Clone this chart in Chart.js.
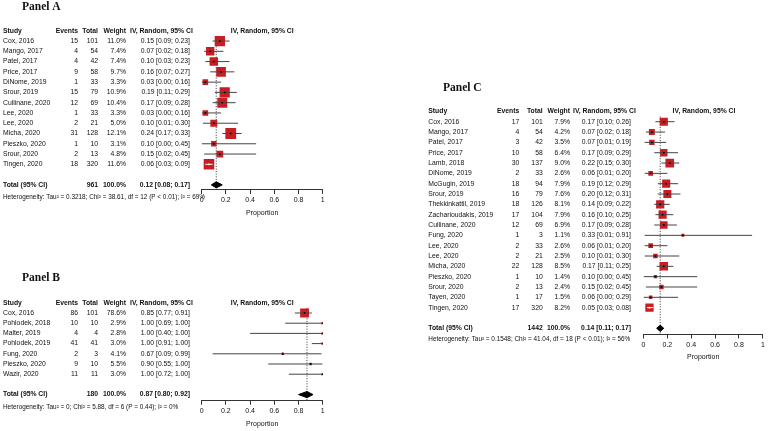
<!DOCTYPE html>
<html><head><meta charset="utf-8">
<script src="https://cdn.jsdelivr.net/npm/chart.js@4.4.1/dist/chart.umd.min.js"></script>
<style>
html,body{margin:0;padding:0;background:#fff;width:769px;height:431px;overflow:hidden}
canvas{position:absolute;left:0;top:0}
</style></head><body>
<canvas id="cA" width="769" height="431"></canvas>
<canvas id="cB" width="769" height="431"></canvas>
<canvas id="cC" width="769" height="431"></canvas>
<script>
// ---------- Panel A data ----------
const studiesA = ["Cox, 2016","Mango, 2017","Patel, 2017","Price, 2017","DiNome, 2019","Srour, 2019","Cullinane, 2020","Lee, 2020","Lee, 2020","Micha, 2020","Pieszko, 2020","Srour, 2020","Tingen, 2020"];
const eventsA = [15,4,4,9,1,15,12,1,2,31,1,2,18];
const totalsA = [101,54,42,58,33,79,69,33,21,128,10,13,320];
const weightsA = [11.0,7.4,7.4,9.7,3.3,10.9,10.4,3.3,5.0,12.1,3.1,4.8,11.6];
const estA = [0.15,0.07,0.10,0.16,0.03,0.19,0.17,0.03,0.10,0.24,0.10,0.15,0.06];
const lowerA = [0.09,0.02,0.03,0.07,0.00,0.11,0.09,0.00,0.01,0.17,0.00,0.02,0.03];
const upperA = [0.23,0.18,0.23,0.27,0.16,0.29,0.28,0.16,0.30,0.33,0.45,0.45,0.09];
const pooledA = [0.12,0.08,0.17];
const totalNA = 961;
const hetA = "Heterogeneity: Tau² = 0.3218; Chi² = 38.61, df = 12 (P < 0.01); I² = 69%";

// ---------- Panel B data ----------
const studiesB = ["Cox, 2016","Pohlodek, 2018","Malter, 2019","Pohlodek, 2019","Fung, 2020","Pieszko, 2020","Wazir, 2020"];
const eventsB = [86,10,4,41,2,9,11];
const totalsB = [101,10,4,41,3,10,11];
const weightsB = [78.6,2.9,2.8,3.0,4.1,5.5,3.0];
const estB = [0.85,1.00,1.00,1.00,0.67,0.90,1.00];
const lowerB = [0.77,0.69,0.40,0.91,0.09,0.55,0.72];
const upperB = [0.91,1.00,1.00,1.00,0.99,1.00,1.00];
const pooledB = [0.87,0.80,0.92];
const totalNB = 180;
const hetB = "Heterogeneity: Tau² = 0; Chi² = 5.88, df = 6 (P = 0.44); I² = 0%";

// ---------- Panel C data ----------
const studiesC = ["Cox, 2016","Mango, 2017","Patel, 2017","Price, 2017","Lamb, 2018","DiNome, 2019","McGugin, 2019","Srour, 2019","Thekkinkattil, 2019","Zacharioudakis, 2019","Cullinane, 2020","Fung, 2020","Lee, 2020","Lee, 2020","Micha, 2020","Pieszko, 2020","Srour, 2020","Tayen, 2020","Tingen, 2020"];
const eventsC = [17,4,3,10,30,2,18,16,18,17,12,1,2,2,22,1,2,1,17];
const totalsC = [101,54,42,58,137,33,94,79,126,104,69,3,33,21,128,10,13,17,320];
const weightsC = [7.9,4.2,3.5,6.4,9.0,2.6,7.9,7.6,8.1,7.9,6.9,1.1,2.6,2.5,8.5,1.4,2.4,1.5,8.2];
const estC = [0.17,0.07,0.07,0.17,0.22,0.06,0.19,0.20,0.14,0.16,0.17,0.33,0.06,0.10,0.17,0.10,0.15,0.06,0.05];
const lowerC = [0.10,0.02,0.01,0.09,0.15,0.01,0.12,0.12,0.09,0.10,0.09,0.01,0.01,0.01,0.11,0.00,0.02,0.00,0.03];
const upperC = [0.26,0.18,0.19,0.29,0.30,0.20,0.29,0.31,0.22,0.25,0.28,0.91,0.20,0.30,0.25,0.45,0.45,0.29,0.08];
const pooledC = [0.14,0.11,0.17];
const totalNC = 1442;
const hetC = "Heterogeneity: Tau² = 0.1548; Chi² = 41.04, df = 18 (P < 0.01); I² = 56%";

const tickValues = [0,0.2,0.4,0.6,0.8,1];
const tickLabels = ["0","0.2","0.4","0.6","0.8","1"];
const axisTitle = "Proportion";
const ciHeader = "IV, Random, 95% CI";
const colHeaders = ["Study","Events","Total","Weight"];
const totalLabel = "Total (95% CI)";

// ---------- rendering ----------
const W = 769, H = 431, AX_H = 27.2;
const SANS = '"Liberation Sans", Arial, sans-serif';
const SERIF = '"Liberation Serif", "Times New Roman", serif';
Chart.defaults.font.family = SANS;
Chart.defaults.color = '#111';

function fmtCI(e, lo, hi) { return e.toFixed(2) + ' [' + lo.toFixed(2) + '; ' + hi.toFixed(2) + ']'; }

function buildPanel(id, d, L) {
  const n = d.studies.length;
  const sides = d.weights.map(w => Math.max(L.minSide, L.k * Math.sqrt(w)));
  const pxPerUnit = L.plotR - L.plotL;
  const inside = d.lower.map((lo, i) => (d.upper[i] - lo) * pxPerUnit < sides[i]);
  const datasets = [];
  datasets.push({type:'line', data:[{x:d.pooled[0], y:-0.5},{x:d.pooled[0], y:L.yMax}],
    borderColor:'#333', borderWidth:1, borderDash:[1,1.6], pointRadius:0, order:6});
  datasets.push({type:'scatter', data:d.est.map((e,i)=>({x:e,y:i})), pointStyle:'rect',
    pointRadius:sides.map(s=>s/Math.SQRT2), backgroundColor:'#C81E23', borderWidth:0, order:5});
  d.est.forEach((e,i) => datasets.push({type:'line', data:[{x:d.lower[i],y:i},{x:d.upper[i],y:i}],
    borderColor: inside[i] ? '#fff' : '#444', borderWidth:1, pointRadius:0, order:4}));
  datasets.push({type:'scatter', data:d.est.map((e,i)=>({x:e,y:i})), pointStyle:'circle',
    pointRadius:0.9, backgroundColor:inside.map(f=>f?'#fff':'#000'), borderWidth:0, order:3});
  const T = L.totalIdx, h = L.dh;
  datasets.push({type:'line', data:[{x:d.pooled[1],y:T},{x:d.pooled[0],y:T-h},{x:d.pooled[2],y:T},{x:d.pooled[0],y:T+h},{x:d.pooled[1],y:T}],
    borderColor:'#000', backgroundColor:'#000', borderWidth:1, pointRadius:0, fill:'shape', order:1});

  const textPlugin = {
    id: 'forestText' + id,
    afterDraw(chart) {
      const ctx = chart.ctx, ys = chart.scales.y;
      ctx.save();
      ctx.fillStyle = '#111';
      ctx.textBaseline = 'middle';
      ctx.font = 'bold 11.5px ' + SERIF;
      ctx.textAlign = 'left';
      ctx.fillText(d.title, L.titleX, L.titleY);
      const hy = ys.getPixelForValue(-1);
      ctx.font = 'bold 6.8px ' + SANS;
      ctx.textAlign = 'left'; ctx.fillText(colHeaders[0], L.cStudy, hy);
      ctx.textAlign = 'right';
      ctx.fillText(colHeaders[1], L.cEvents, hy);
      ctx.fillText(colHeaders[2], L.cTotal, hy);
      ctx.fillText(colHeaders[3], L.cWeight, hy);
      ctx.textAlign = 'left'; ctx.fillText(ciHeader, L.cCIHead, hy);
      ctx.textAlign = 'center'; ctx.fillText(ciHeader, (L.plotL + L.plotR) / 2, hy);
      ctx.font = '6.8px ' + SANS;
      for (let i = 0; i < n; i++) {
        const y = ys.getPixelForValue(i);
        ctx.textAlign = 'left'; ctx.fillText(d.studies[i], L.cStudy, y);
        ctx.textAlign = 'right';
        ctx.fillText(String(d.events[i]), L.cEvents, y);
        ctx.fillText(String(d.totals[i]), L.cTotal, y);
        ctx.fillText(d.weights[i].toFixed(1) + '%', L.cWeight, y);
        ctx.fillText(fmtCI(d.est[i], d.lower[i], d.upper[i]), L.cCI, y);
      }
      const ty = ys.getPixelForValue(L.totalIdx);
      ctx.font = 'bold 6.8px ' + SANS;
      ctx.textAlign = 'left'; ctx.fillText(totalLabel, L.cStudy, ty);
      ctx.textAlign = 'right';
      ctx.fillText(String(d.totalN), L.cTotal, ty);
      ctx.fillText('100.0%', L.cWeight, ty);
      ctx.fillText(fmtCI(d.pooled[0], d.pooled[1], d.pooled[2]), L.cCI, ty);
      ctx.font = '6.4px ' + SANS;
      ctx.textAlign = 'left';
      ctx.fillText(d.het, L.cStudy, ys.getPixelForValue(L.totalIdx + L.hetOff));
      ctx.restore();
    }
  };

  return new Chart(document.getElementById(id), {
    type: 'scatter',
    data: { datasets },
    options: {
      responsive: false, animation: false, events: [],
      layout: { padding: { left: L.plotL, right: W - L.plotR, top: L.top, bottom: H - L.axisY - AX_H } },
      plugins: { legend: { display: false }, tooltip: { enabled: false } },
      scales: {
        x: {
          type: 'linear', min: 0, max: 1, position: 'bottom',
          afterBuildTicks: s => { s.ticks = tickValues.map(v => ({ value: v })); },
          afterFit: s => { s.height = AX_H; },
          grid: { display: true, drawOnChartArea: false, drawTicks: true, tickLength: 4, color: '#333' },
          border: { display: true, color: '#333', width: 1 },
          ticks: { font: { size: 7 }, padding: 2, color: '#111', maxRotation: 0, autoSkip: false,
                   callback: (v, i) => tickLabels[i] },
          title: { display: true, text: axisTitle, font: { size: 7 }, padding: 0, color: '#111' }
        },
        y: { type: 'linear', reverse: true, min: L.yMin, max: L.yMax, display: false }
      }
    },
    plugins: [textPlugin]
  });
}

buildPanel('cA',
  { title:'Panel A', studies:studiesA, events:eventsA, totals:totalsA, weights:weightsA, est:estA, lower:lowerA, upper:upperA, pooled:pooledA, totalN:totalNA, het:hetA },
  { plotL:201.7, plotR:322.7, top:24.6, axisY:190, yMin:-1.6, yMax:14.5, totalIdx:14, dh:0.3, hetOff:1.25,
    k:3.1, minSide:2.5, titleX:22, titleY:7, cStudy:3, cEvents:78, cTotal:98, cWeight:126, cCIHead:130, cCI:190 });

buildPanel('cB',
  { title:'Panel B', studies:studiesB, events:eventsB, totals:totalsB, weights:weightsB, est:estB, lower:lowerB, upper:upperB, pooled:pooledB, totalN:totalNB, het:hetB },
  { plotL:201.7, plotR:322.7, top:296.7, axisY:400.7, yMin:-1.6, yMax:8.6, totalIdx:8, dh:0.3, hetOff:1.2,
    k:1.0, minSide:2.5, titleX:22, titleY:278, cStudy:3, cEvents:78, cTotal:98, cWeight:126, cCIHead:130, cCI:190 });

buildPanel('cC',
  { title:'Panel C', studies:studiesC, events:eventsC, totals:totalsC, weights:weightsC, est:estC, lower:lowerC, upper:upperC, pooled:pooledC, totalN:totalNC, het:hetC },
  { plotL:643.5, plotR:764.5, top:105.2, axisY:334.5, yMin:-1.6, yMax:20.6, totalIdx:20, dh:0.3, hetOff:1.1,
    k:2.9, minSide:2.5, titleX:443, titleY:88, cStudy:428.3, cEvents:519.3, cTotal:542.7, cWeight:570, cCIHead:573, cCI:631 });
</script>
</body></html>
